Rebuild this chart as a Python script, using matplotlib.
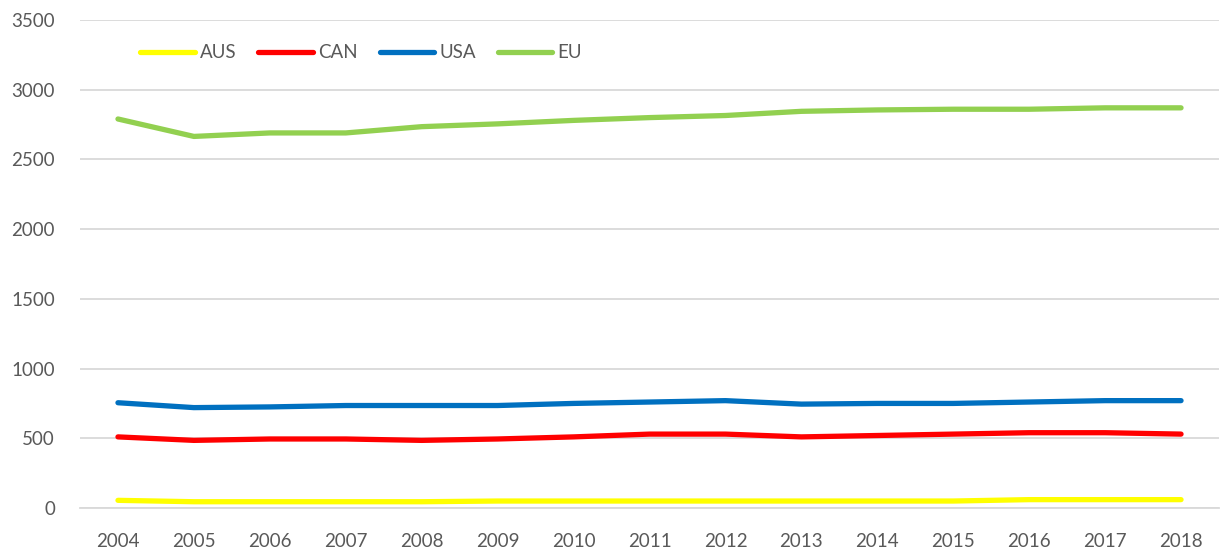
import matplotlib.pyplot as plt

# Годините по оста X
years = [str(y) for y in range(2004, 2019)]

# Стойности на сериите
aus = [55, 45, 45, 45, 45, 50, 50, 50, 50, 50, 50, 50, 60, 60, 60]
can = [510, 485, 495, 495, 485, 495, 510, 530, 530, 510, 520, 530, 540, 540, 530]
usa = [755, 720, 725, 735, 735, 735, 750, 760, 770, 745, 750, 750, 760, 770, 770]
eu = [2790, 2665, 2690, 2690, 2735, 2755, 2780, 2800, 2815, 2845, 2855, 2860, 2860, 2870, 2870]

series = [("AUS", aus, "#FFFF00"), ("CAN", can, "#FF0000"),
          ("USA", usa, "#0070C0"), ("EU", eu, "#92D050")]

plt.rcParams["font.family"] = ["Lato", "DejaVu Sans"]

fig = plt.figure(figsize=(12.24, 5.53), dpi=100)
ax = fig.add_axes([80 / 1224, 1 - 508 / 553, 1139 / 1224, 488 / 553])

x = range(len(years))
for name, vals, col in series:
    ax.plot(x, vals, color=col, lw=3.8, label=name, solid_capstyle="round", solid_joinstyle="round")

ax.set_xlim(-0.5, len(years) - 0.5)
ax.set_ylim(0, 3500)
ax.set_yticks(range(0, 3501, 500))
ax.set_xticks(list(x))
ax.set_xticklabels(years)
ax.tick_params(length=0, labelsize=13.5, colors="#595959")
ax.tick_params(axis="x", pad=18)
ax.tick_params(axis="y", pad=18)

ax.grid(axis="y", color="#d9d9d9", lw=1.3)
ax.set_axisbelow(True)
for s in ["top", "right", "left"]:
    ax.spines[s].set_visible(False)
ax.spines["bottom"].set_color("#d9d9d9")
ax.spines["bottom"].set_linewidth(1.3)

ax.legend(loc="upper left", bbox_to_anchor=(0.038, 0.985), ncol=4, frameon=False,
          fontsize=13.5, handlelength=2.9, handletextpad=0.3, columnspacing=1.15,
          labelcolor="#595959")

fig.savefig("out.png", dpi=100)
